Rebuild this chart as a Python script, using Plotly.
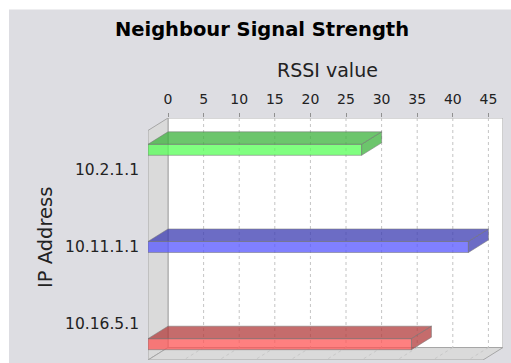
import plotly.graph_objects as go

# Neighbour RSSI readings, one bar per IP address
ips = ["10.2.1.1", "10.11.1.1", "10.16.5.1"]
rssi = [30, 45, 37]
base_colors = [(85, 255, 85), (85, 85, 255), (255, 85, 85)]
value_ticks = [0, 5, 10, 15, 20, 25, 30, 35, 40, 45]

# 3D box geometry (axis units)
X_MIN, X_MAX = -2.81, 47.05      # value axis span incl. the left wall depth
Y_TOP, Y_BOTTOM = -0.675, 2.4675 # category axis span (reversed)
DX, DY = 2.81, 0.162             # depth offset of the 3D effect
SLOT = 0.262                     # series slot offset inside a category band
THICK = 0.143                    # bar thickness
ALPHA = 0.75

W, H = 511, 363
ML, MR, MT, MB = 148, 8, 118, 3
PW, PH = W - ML - MR, H - MT - MB


def rgba(c, a):
    return "rgba(%d,%d,%d,%.3f)" % (c[0], c[1], c[2], a)


def darker(c):
    return tuple(int(v * 0.7) for v in c)


def px_x(p):
    return (p - ML) / PW


def px_y(p):
    return (H - MB - p) / PH


fig = go.Figure()

shapes = []
# chart background panel
shapes.append(dict(type="rect", xref="paper", yref="paper",
                   x0=px_x(9), x1=px_x(W + 2), y0=px_y(H + 2), y1=px_y(9.5),
                   fillcolor="#dddde2", line=dict(width=0), layer="below"))

back_bottom = Y_BOTTOM - DY
wall_fill = "#dadada"
wall_line = "#a6a6a6"
# back wall
shapes.append(dict(type="rect", xref="x", yref="y", x0=0, x1=X_MAX,
                   y0=Y_TOP, y1=back_bottom, fillcolor="white",
                   line=dict(color="#b0b0b0", width=1.2), layer="below"))
# left wall
shapes.append(dict(type="path", xref="x", yref="y",
                   path="M %f,%f L %f,%f L %f,%f L %f,%f Z" % (
                       X_MIN, Y_TOP + DY, 0, Y_TOP, 0, back_bottom, X_MIN, Y_BOTTOM),
                   fillcolor=wall_fill, line=dict(color=wall_line, width=1),
                   layer="below"))
# floor
shapes.append(dict(type="path", xref="x", yref="y",
                   path="M %f,%f L %f,%f L %f,%f L %f,%f Z" % (
                       X_MIN, Y_BOTTOM, 0, back_bottom, X_MAX, back_bottom,
                       X_MAX - DX, Y_BOTTOM),
                   fillcolor=wall_fill, line=dict(color=wall_line, width=1),
                   layer="below"))
# dashed grid on back wall and floor
for v in value_ticks[1:]:
    shapes.append(dict(type="line", xref="x", yref="y", x0=v, x1=v,
                       y0=Y_TOP, y1=back_bottom,
                       line=dict(color="#c4c4c4", width=1, dash="3px,3px"),
                       layer="below"))
    shapes.append(dict(type="line", xref="x", yref="y", x0=v, x1=v - DX,
                       y0=back_bottom, y1=Y_BOTTOM,
                       line=dict(color="#c8c8c8", width=1, dash="3px,3px"),
                       layer="below"))

# 3D bars: front face, top face and right end face
for j, (ip, v, col) in enumerate(zip(ips, rssi, base_colors)):
    c = j + (j - 1) * SLOT
    t0, t1 = c - THICK / 2, c + THICK / 2
    edge = dict(color="rgba(120,120,120,0.55)", width=1)
    faces = [
        ([-DX, v - DX, v - DX, -DX, -DX], [t0, t0, t1, t1, t0], rgba(col, ALPHA)),
        ([-DX, v - DX, v, 0, -DX], [t0, t0, t0 - DY, t0 - DY, t0], rgba(darker(col), ALPHA)),
        ([v - DX, v, v, v - DX, v - DX], [t0, t0 - DY, t1 - DY, t1, t0], rgba(darker(col), ALPHA)),
    ]
    for xs, ys, fc in faces:
        fig.add_trace(go.Scatter(x=xs, y=ys, mode="lines", fill="toself",
                                 fillcolor=fc, line=edge, hoverinfo="skip",
                                 showlegend=False, name=ip))

fig.update_layout(
    width=W, height=H,
    margin=dict(l=ML, r=MR, t=MT, b=MB, pad=0),
    paper_bgcolor="white", plot_bgcolor="rgba(0,0,0,0)",
    shapes=shapes,
    title=dict(text="Neighbour Signal Strength", xref="container", yref="container",
               x=262 / W, y=1 - 29 / H, xanchor="center", yanchor="middle",
               font=dict(family="DejaVu Sans", size=19.5, color="black", weight="bold")),
    xaxis=dict(range=[X_MIN, X_MAX], side="top", tickvals=value_ticks,
               ticks="outside", ticklen=4, tickcolor="#909090", tickwidth=1,
               showgrid=False, zeroline=False, showline=False, automargin=False,
               ticklabelstandoff=3,
               tickfont=dict(family="DejaVu Sans", size=14, color="#222")),
    yaxis=dict(range=[Y_BOTTOM, Y_TOP], tickvals=list(range(len(ips))), ticktext=ips,
               ticks="", showgrid=False, zeroline=False, showline=False,
               automargin=False, ticklabelstandoff=8,
               tickfont=dict(family="DejaVu Sans", size=15.5, color="#222")),
    annotations=[
        dict(text="RSSI value", xref="paper", yref="paper", x=px_x(327), y=px_y(70),
             xanchor="center", yanchor="middle", showarrow=False,
             font=dict(family="DejaVu Sans", size=19, color="#222")),
        dict(text="IP Address", xref="paper", yref="paper", x=px_x(45), y=px_y(238),
             xanchor="center", yanchor="middle", showarrow=False, textangle=-90,
             font=dict(family="DejaVu Sans", size=19.5, color="#222")),
    ],
)

fig.write_html("out.html")
